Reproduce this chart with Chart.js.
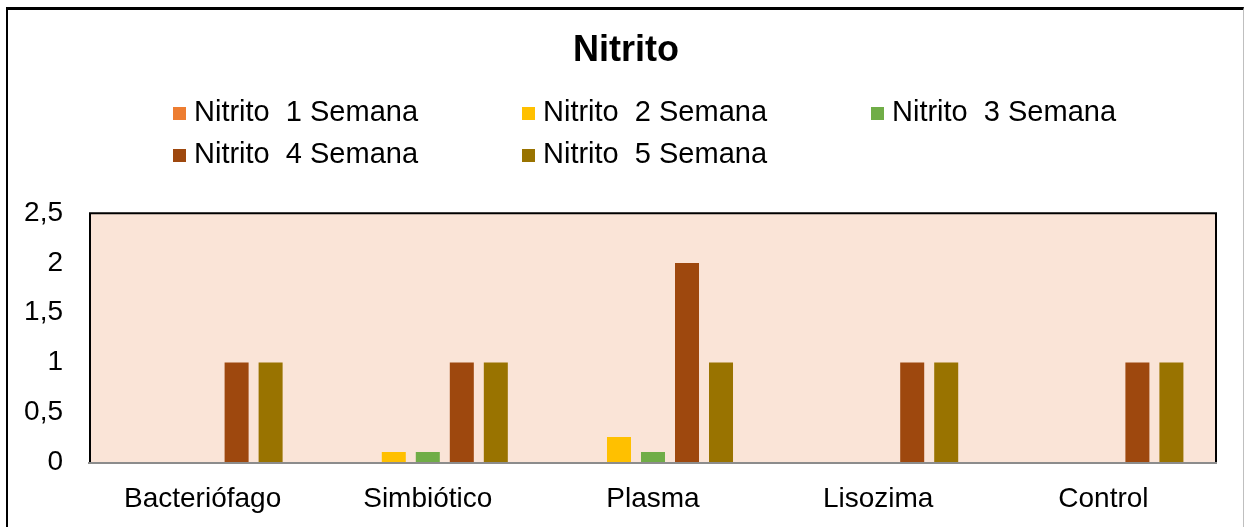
<!DOCTYPE html>
<html>
<head>
<meta charset="utf-8">
<script src="https://cdn.jsdelivr.net/npm/chart.js@4.4.1/dist/chart.umd.min.js"></script>
<style>
  html, body { margin: 0; padding: 0; background: #fff; }
  #wrap { position: relative; width: 1244px; height: 527px; overflow: hidden; }
  #frame { position: absolute; left: 6px; top: 7px; width: 1235px; height: 600px;
           border-left: 2px solid #000; border-top: 3px solid #000; border-right: 1px solid #bfbfbf; }
  #nitrito_chart { position: absolute; left: 0; top: 0; }
</style>
</head>
<body>
<div id="wrap">
  <div id="frame"></div>
  <canvas id="nitrito_chart" width="1244" height="527"></canvas>
</div>
<script>
const categories = ['Bacteriófago', 'Simbiótico', 'Plasma', 'Lisozima', 'Control']
const series_labels = ['Nitrito  1 Semana', 'Nitrito  2 Semana', 'Nitrito  3 Semana', 'Nitrito  4 Semana', 'Nitrito  5 Semana']
const semana1 = [0, 0, 0, 0, 0]
const semana2 = [0, 0.1, 0.25, 0, 0]
const semana3 = [0, 0.1, 0.1, 0, 0]
const semana4 = [1, 1, 2, 1, 1]
const semana5 = [1, 1, 1, 1, 1]
const y_tick_labels = ['0', '0,5', '1', '1,5', '2', '2,5']

const series_colors = ['#ED7D31', '#FFC000', '#70AD47', '#9E480E', '#997300']

Chart.defaults.font.family = "'Liberation Sans', Arial, sans-serif"
Chart.defaults.color = '#000'

// plot area fill + black frame (top, left, right)
const plotArea = {
    id: 'plotArea',
    beforeDatasetsDraw(chart) {
        const {ctx, chartArea: a} = chart
        ctx.save()
        ctx.fillStyle = '#FAE4D7'
        ctx.fillRect(a.left, a.top, a.right - a.left, a.bottom - a.top)
        ctx.restore()
    },
    afterDraw(chart) {
        const {ctx, chartArea: a} = chart
        ctx.save()
        ctx.strokeStyle = '#000'
        ctx.lineWidth = 2
        ctx.beginPath()
        ctx.moveTo(a.left, a.bottom)
        ctx.lineTo(a.left, a.top)
        ctx.lineTo(a.right, a.top)
        ctx.lineTo(a.right, a.bottom)
        ctx.stroke()
        ctx.strokeStyle = '#8c8c8c'
        ctx.beginPath()
        ctx.moveTo(a.left - 2, a.bottom + 1)
        ctx.lineTo(a.right + 1, a.bottom + 1)
        ctx.stroke()
        ctx.restore()
    }
}

// legend in three columns like the excel one
const gridLegend = {
    id: 'gridLegend',
    afterDraw(chart) {
        const ctx = chart.ctx
        ctx.save()
        ctx.font = "29px 'Liberation Sans', Arial, sans-serif"
        ctx.textBaseline = 'middle'
        ctx.textAlign = 'left'
        chart.data.datasets.forEach((ds, i) => {
            const x = 173 + (i % 3) * 349
            const y = 113 + Math.floor(i / 3) * 42
            ctx.fillStyle = ds.backgroundColor
            ctx.fillRect(x, y - 6, 13, 13)
            ctx.fillStyle = '#000'
            ctx.fillText(ds.label, x + 21, y)
        })
        ctx.restore()
    }
}

const all_series = [semana1, semana2, semana3, semana4, semana5]

let nitrito_document = document.getElementById('nitrito_chart').getContext('2d')
let nitrito_chart = new Chart(nitrito_document, {
    type: 'bar',
    data: {
        labels: categories,
        datasets: all_series.map((d, i) => ({
            label: series_labels[i],
            data: d,
            backgroundColor: series_colors[i],
            categoryPercentage: 0.755,
            barPercentage: 0.706
        }))
    },
    options: {
        responsive: false,
        animation: false,
        layout: {padding: {top: 0, left: 8, right: 0, bottom: 0}},
        plugins: {
            legend: {display: false},
            tooltip: {enabled: false},
            title: {
                display: true,
                text: 'Nitrito',
                color: '#000',
                font: {size: 36, weight: 'bold'},
                padding: {top: 29, bottom: 141}
            }
        },
        scales: {
            x: {
                grid: {display: false, drawTicks: false},
                border: {display: false},
                ticks: {font: {size: 28}, padding: 20, color: '#000', maxRotation: 0},
                afterFit(scale) { scale.height = 65 }
            },
            y: {
                min: 0,
                max: 2.5,
                grid: {display: false, drawTicks: false},
                border: {display: false},
                ticks: {
                    stepSize: 0.5,
                    font: {size: 28},
                    padding: 27,
                    color: '#000',
                    callback: (value, index) => y_tick_labels[index]
                },
                afterFit(scale) { scale.width = 82 }
            },
            // empty right axis, only keeps the space on the right of the plot
            y2: {
                position: 'right',
                min: 0,
                max: 2.5,
                grid: {display: false, drawTicks: false},
                border: {display: false},
                ticks: {display: false},
                afterFit(scale) { scale.width = 28 }
            }
        }
    },
    plugins: [plotArea, gridLegend]
})
</script>
</body>
</html>
